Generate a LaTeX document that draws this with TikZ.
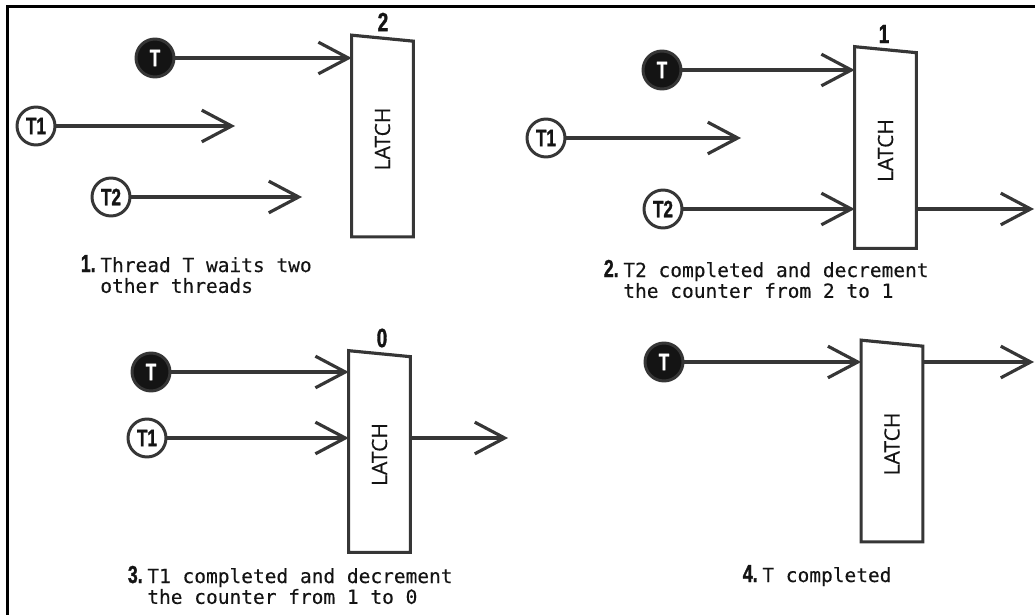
\documentclass[tikz,border=0pt]{standalone}
\usepackage{fontspec}
\setmonofont[FakeBold=0.3]{DejaVu Sans Mono}
\newfontfamily\numfont[FakeStretch=0.72,BoldFeatures={FakeBold=1.3}]{Liberation Sans}
\newfontfamily\latchfont[FakeBold=0.3]{Open Sans}
\usetikzlibrary{arrows.meta,positioning,calc}
\usepackage{xcolor}
\definecolor{wireGray}{HTML}{363636}
\definecolor{threadBlack}{HTML}{141414}
\definecolor{inkBlack}{HTML}{141414}
\tikzset{
thread/.style={circle, draw=wireGray, line width=1.7pt, fill=white, minimum size=0.76cm, inner sep=0pt, font=\numfont\bfseries\fontsize{13.5}{13.5}\selectfont, text=inkBlack},
mainthread/.style={thread, fill=threadBlack, text=white},
latch/.style={rectangle, minimum width=1.22cm, minimum height=3.9cm, inner sep=0pt, font=\latchfont\fontsize{12}{12}\selectfont, text=inkBlack},
latchline/.style={draw=wireGray, line width=1.8pt, line join=miter},
flow/.style={-{Straight Barb[length=17pt,width=18pt]}, line width=1.8pt, draw=wireGray},
counter/.style={inner sep=0pt, font=\numfont\bfseries\fontsize{15}{15}\selectfont, text=inkBlack},
stepnum/.style={anchor=base east, inner sep=0pt, font=\numfont\bfseries\fontsize{14}{14}\selectfont, text=inkBlack},
steptext/.style={anchor=base west, inner sep=0pt, font=\ttfamily\fontsize{11.1}{11.4}\selectfont, text=inkBlack}
}

\begin{document}
\begin{tikzpicture}[x=0.02cm, y=-0.02cm]
\useasboundingbox (0,0) rectangle (1035,615);
% frame on top and left
\draw[black, line width=1.7pt] (7.5,615) -- (7.5,6.5) -- (1035,6.5);

% latches
\node[latch] (L1) at (382.5,139) {\rotatebox{90}{LATCH}};
\node[latch] (L2) at (885.5,150.5) {\rotatebox{90}{LATCH}};
\node[latch] (L3) at (379.5,454.5) {\rotatebox{90}{LATCH}};
\node[latch] (L4) at (892,444) {\rotatebox{90}{LATCH}};
\foreach \l in {L1,L2,L3,L4}{
\draw[latchline] ([yshift=0.12cm]\l.north west) -- (\l.north east) -- (\l.south east) -- (\l.south west) -- cycle;
}
\node[counter] (c1) at (383,22) {2};
\node[counter] (c2) at (884,34) {1};
\node[counter] (c3) at (382,338) {0};

% 1. waiting
\node[mainthread] (Ta) at (155,58) {T};
\node[thread] (T1a) at (36,126) {T1};
\node[thread] (T2a) at (111,197) {T2};
\coordinate (e1a) at (235,126);
\coordinate (e2a) at (302,197);
\draw[flow] (Ta) -- (Ta -| L1.west);
\draw[flow] (T1a) -- (e1a);
\draw[flow] (T2a) -- (e2a);
\node[stepnum] (n1) at (96,272) {1.};
\node[steptext] (s1) at (100,272) {\begin{tabular}[t]{@{}l@{}}Thread T waits two\\other threads\end{tabular}};

% 2. T2 done
\node[mainthread] (Tb) at (662,70) {T};
\node[thread] (T1b) at (546,138) {T1};
\node[thread] (T2b) at (663,209) {T2};
\coordinate (e1b) at (741,138);
\coordinate (o2) at (1034,209);
\draw[flow] (Tb) -- (Tb -| L2.west);
\draw[flow] (T1b) -- (e1b);
\draw[flow] (T2b) -- (T2b -| L2.west);
\draw[flow] (L2.east |- T2b) -- (o2);
\node[stepnum] (n2) at (619,277) {2.};
\node[steptext] (s2) at (623,277) {\begin{tabular}[t]{@{}l@{}}T2 completed and decrement\\the counter from 2 to 1\end{tabular}};

% 3. T1 done
\node[mainthread] (Tc) at (151,372) {T};
\node[thread] (T1c) at (147,438) {T1};
\coordinate (o3) at (508,438);
\draw[flow] (Tc) -- (Tc -| L3.west);
\draw[flow] (T1c) -- (T1c -| L3.west);
\draw[flow] (L3.east |- T1c) -- (o3);
\node[stepnum] (n3) at (143,583) {3.};
\node[steptext] (s3) at (147,583) {\begin{tabular}[t]{@{}l@{}}T1 completed and decrement\\the counter from 1 to 0\end{tabular}};

% 4. T done
\node[mainthread] (Td) at (664,362) {T};
\coordinate (o4) at (1034,362);
\draw[flow] (Td) -- (Td -| L4.west);
\draw[flow] (L4.east |- Td) -- (o4);
\node[stepnum] (n4) at (758,582) {4.};
\node[steptext] (s4) at (762,582) {T completed};
\end{tikzpicture}
\end{document}
